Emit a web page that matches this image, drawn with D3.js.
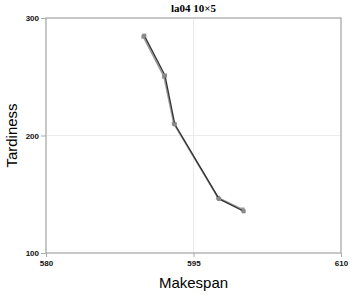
<!DOCTYPE html>
<html>
<head>
<meta charset="utf-8">
<script src="https://cdn.jsdelivr.net/npm/d3@7"></script>
<style>
	body { margin:0; background:#fff; }
	svg { display:block; }
</style>
</head>
<body>
<svg width="358" height="295"></svg>
<script>
var makespanA  = [590, 592.1, 593.1, 597.6, 600.1];
var tardinessA = [285, 251, 209.5, 146, 135.5];
var makespanB  = [589.9, 592.0, 593.0, 597.5, 600.0];
var tardinessB = [284, 250, 210, 147, 137];
var xTicks = [580, 595, 610];
var yTicks = [100, 200, 300];

var svg = d3.select("svg");
var mLeft = 46, mRight = 341, mTop = 18, mBottom = 253;

var x = d3.scaleLinear().domain([580, 610]).range([mLeft, mRight]);
var y = d3.scaleLinear().domain([100, 300]).range([mBottom, mTop]);

// grid
svg.selectAll("line.gx").data([595]).enter().append("line")
	.attr("x1", function(d){ return x(d); }).attr("x2", function(d){ return x(d); })
	.attr("y1", mTop).attr("y2", mBottom)
	.attr("stroke", "#ececec").attr("stroke-width", 1);
svg.selectAll("line.gy").data([200]).enter().append("line")
	.attr("x1", mLeft).attr("x2", mRight)
	.attr("y1", function(d){ return y(d); }).attr("y2", function(d){ return y(d); })
	.attr("stroke", "#ececec").attr("stroke-width", 1);

// frame
svg.append("rect")
	.attr("x", mLeft).attr("y", mTop)
	.attr("width", mRight-mLeft).attr("height", mBottom-mTop)
	.attr("fill", "none").attr("stroke", "#aaa").attr("stroke-width", 1.3);

// axes
var xAxis = svg.append("g").attr("transform", "translate(0," + mBottom + ")")
	.call(d3.axisBottom(x).tickValues(xTicks).tickSize(4).tickPadding(3));
var yAxis = svg.append("g").attr("transform", "translate(" + mLeft + ",0)")
	.call(d3.axisLeft(y).tickValues(yTicks).tickSize(5).tickPadding(2));
[xAxis, yAxis].forEach(function(a){
	a.select(".domain").remove();
	a.selectAll("line").attr("stroke", "#aaa");
	a.selectAll("text").attr("font-family", "Liberation Sans, Arial, sans-serif")
		.attr("font-weight", "bold").attr("font-size", 8).attr("fill", "#111");
});

function series(xs, ys, color, width, mcolor) {
	var pts = xs.map(function(v,i){ return [v, ys[i]]; });
	var line = d3.line().x(function(d){ return x(d[0]); }).y(function(d){ return y(d[1]); });
	svg.append("path").datum(pts)
		.attr("d", line).attr("fill", "none")
		.attr("stroke", color).attr("stroke-width", width);
	svg.selectAll(null).data(pts).enter().append("rect")
		.attr("x", function(d){ return x(d[0]) - 2; })
		.attr("y", function(d){ return y(d[1]) - 2; })
		.attr("width", 4).attr("height", 4)
		.attr("fill", mcolor);
}
series(makespanB, tardinessB, "#9a9a9a", 1.6, "#999");
series(makespanA, tardinessA, "#333", 1.3, "#888");

// titles
svg.append("text").attr("x", (mLeft+mRight)/2).attr("y", 12)
	.attr("text-anchor", "middle")
	.attr("font-family", "Liberation Serif, Times New Roman, serif")
	.attr("font-weight", "bold").attr("font-size", 11)
	.text("la04 10×5");
svg.append("text").attr("x", (mLeft+mRight)/2).attr("y", 288)
	.attr("text-anchor", "middle")
	.attr("font-family", "Liberation Sans, Arial, sans-serif")
	.attr("font-size", 15)
	.text("Makespan");
svg.append("text")
	.attr("transform", "translate(17," + ((mTop+mBottom)/2) + ") rotate(-90)")
	.attr("text-anchor", "middle")
	.attr("font-family", "Liberation Sans, Arial, sans-serif")
	.attr("font-size", 15)
	.text("Tardiness");
</script>
</body>
</html>
